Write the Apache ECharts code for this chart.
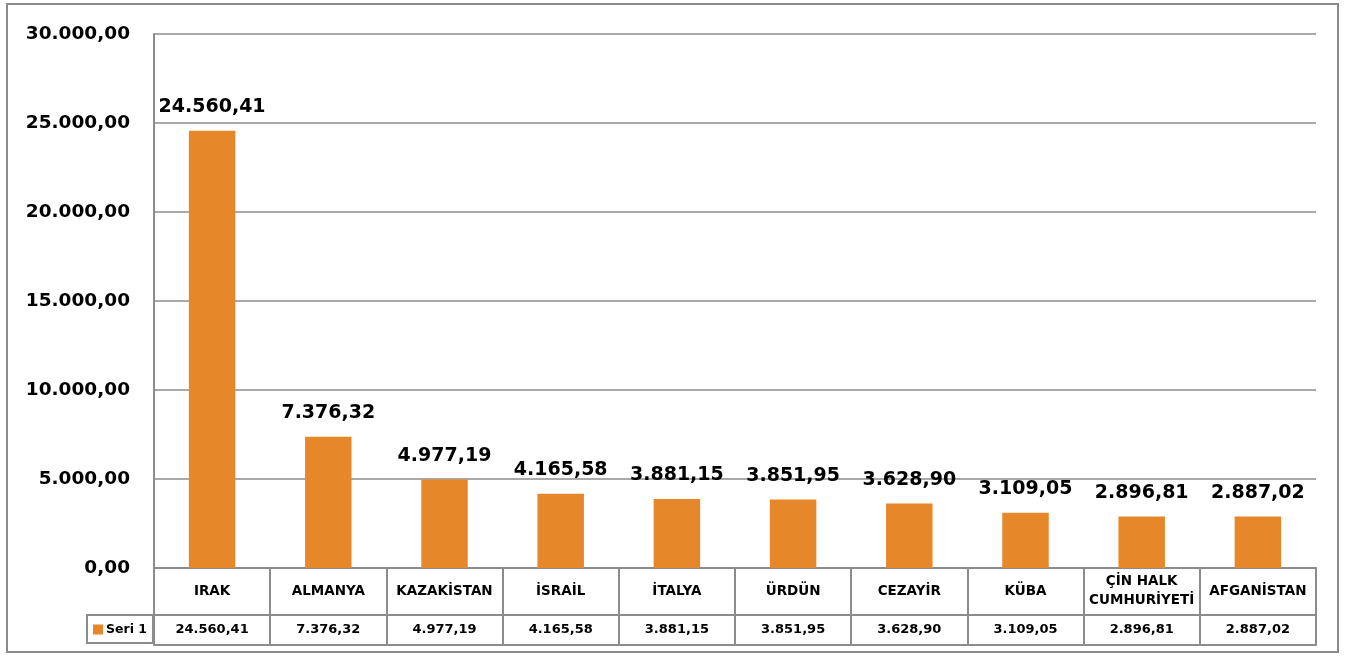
<!DOCTYPE html>
<html><head><meta charset="utf-8">
<script src="https://cdn.jsdelivr.net/npm/echarts@6/dist/echarts.min.js"></script>
<style>html,body{margin:0;padding:0;background:#fff}#c{width:1346px;height:658px}</style>
</head><body><div id="c"></div>
<script>
const categories = ['IRAK','ALMANYA','KAZAKİSTAN','İSRAİL','İTALYA','ÜRDÜN','CEZAYİR','KÜBA','ÇİN HALK\nCUMHURİYETİ','AFGANİSTAN'];
const seriesName = 'Seri 1';
const values = [24560.41, 7376.32, 4977.19, 4165.58, 3881.15, 3851.95, 3628.90, 3109.05, 2896.81, 2887.02];
const yMin = 0, yMax = 30000, yStep = 5000;

function fmt(v){
  const parts = v.toFixed(2).split('.');
  const intPart = parts[0].replace(/\B(?=(\d{3})+(?!\d))/g, '.');
  return intPart + ',' + parts[1];
}
const FONT = '"DejaVu Sans"';
const GRAY = '#8c8c8c';
const ORANGE = '#E6872A';

const chart = echarts.init(document.getElementById('c'));
chart.setOption({
  animation:false,
  graphic:[{type:'rect',shape:{x:7,y:4,width:1331,height:648},style:{fill:'none',stroke:GRAY,lineWidth:2},silent:true}],
  legend:{
    left:87, top:615, orient:'horizontal',
    icon:'rect', itemWidth:10, itemHeight:10, itemGap:4,
    borderColor:GRAY, borderWidth:2, borderRadius:0,
    padding:[8,6,7,6],
    textStyle:{fontFamily:FONT,fontWeight:'bold',fontSize:12.5,color:'#000',padding:[0,0,0,-2]},
    data:[seriesName]
  },
  grid:{left:154,right:30,top:34,bottom:90,containLabel:false},
  xAxis:[
    {type:'category',data:categories,position:'bottom',
     axisLine:{show:true,lineStyle:{color:GRAY,width:2}},
     axisTick:{show:true,interval:0,length:77,lineStyle:{color:GRAY,width:2}},
     axisLabel:{interval:0,margin:23,verticalAlign:'middle',fontFamily:FONT,fontWeight:'bold',fontSize:13.5,color:'#000',lineHeight:19}},
    {type:'category',data:values.map(fmt),position:'bottom',offset:47,
     axisLine:{show:true,lineStyle:{color:GRAY,width:2}},
     axisTick:{show:false},
     axisLabel:{interval:0,margin:15,verticalAlign:'middle',fontFamily:FONT,fontWeight:'bold',fontSize:13,color:'#000'}},
    {type:'category',data:categories,position:'bottom',offset:77,
     axisLine:{show:true,lineStyle:{color:GRAY,width:2}},
     axisTick:{show:false},axisLabel:{show:false}}
  ],
  yAxis:{type:'value',min:yMin,max:yMax,interval:yStep,
    axisLine:{show:true,lineStyle:{color:GRAY,width:2}},
    axisTick:{show:false},
    splitLine:{show:true,lineStyle:{color:GRAY,width:1.5}},
    axisLabel:{margin:24,fontFamily:FONT,fontWeight:'bold',fontSize:18.5,color:'#000',formatter:v=>fmt(v)}},
  series:[{
    name:seriesName,type:'bar',xAxisIndex:0,data:values,barWidth:'40%',
    itemStyle:{color:ORANGE},
    label:{show:true,position:'top',distance:14,fontFamily:FONT,fontWeight:'bold',fontSize:19,color:'#000',formatter:p=>fmt(p.value)}
  }]
});
</script></body></html>
